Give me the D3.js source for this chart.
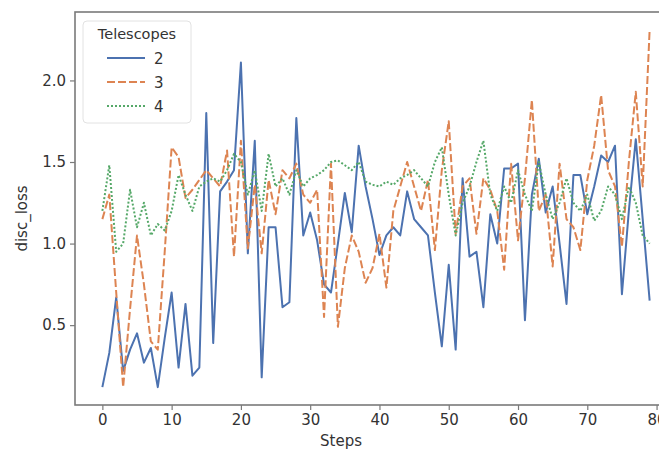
<!DOCTYPE html>
<html><head><meta charset="utf-8">
<script src="https://cdn.jsdelivr.net/npm/d3@7"></script>
<style>
html,body{margin:0;padding:0;background:#fff;}
text{font-family:"DejaVu Sans",sans-serif;}
</style></head>
<body><svg id="chart" width="659" height="453"></svg>
<script>
const seriesNames = ["2", "3", "4"];
const tel2 = [0.12,0.33,0.67,0.22,0.35,0.45,0.27,0.36,0.12,0.42,0.70,0.24,0.63,0.19,0.24,1.80,0.39,1.32,1.38,1.45,
2.11,0.94,1.63,0.18,1.10,1.10,0.61,0.64,1.77,1.05,1.19,1.02,0.75,0.70,1.00,1.31,1.07,1.60,1.35,1.15,
0.93,1.05,1.10,1.05,1.32,1.15,1.10,1.05,0.70,0.37,0.87,0.35,1.40,0.92,0.95,0.61,1.18,1.00,1.46,1.46,
1.49,0.53,1.30,1.52,1.19,1.35,1.00,0.63,1.42,1.42,1.18,1.35,1.54,1.50,1.60,0.69,1.20,1.64,1.15,0.65];
const tel3 = [1.15,1.30,0.70,0.12,0.60,1.05,0.75,0.40,0.35,0.95,1.59,1.53,1.28,1.33,1.39,1.45,1.40,1.35,1.57,0.92,
1.63,0.97,1.36,0.94,1.39,1.18,1.45,1.40,1.49,1.30,1.25,1.33,0.55,1.49,0.49,0.85,1.05,0.95,0.76,0.85,
1.06,0.73,1.20,1.35,1.50,1.35,1.20,1.39,0.96,1.45,1.75,1.06,1.35,1.40,1.06,1.40,1.33,1.20,0.84,1.49,
1.02,1.40,1.88,1.20,1.30,0.86,1.49,1.15,1.10,0.96,1.39,1.60,1.91,1.45,1.35,0.98,1.50,1.93,1.35,2.31];
const tel4 = [1.20,1.48,0.95,1.00,1.33,1.10,1.25,1.05,1.12,1.08,1.20,1.42,1.30,1.20,1.35,1.38,1.40,1.38,1.45,1.55,
1.50,1.30,1.45,1.20,1.55,1.35,1.40,1.30,1.45,1.35,1.40,1.42,1.45,1.50,1.51,1.48,1.45,1.50,1.38,1.36,
1.35,1.38,1.36,1.40,1.42,1.45,1.40,1.35,1.50,1.59,1.30,1.05,1.25,1.35,1.50,1.63,1.30,1.20,1.35,1.25,
1.45,1.30,1.20,1.50,1.30,1.15,1.25,1.40,1.25,1.20,1.30,1.14,1.20,1.35,1.30,1.15,1.35,1.25,1.05,1.00];
const xTicks = [0,10,20,30,40,50,60,70,80];
const yTicks = [0.5,1.0,1.5,2.0];
const colors = ["#4c72b0","#dd8452","#55a868"];

const allSeries = [tel2, tel3, tel4];
const svg = d3.select("#chart");
const L = 75, T = 12, B = 405, R = 677;

const nSteps = tel2.length - 1;
const xm = nSteps * 0.05;
const x = d3.scaleLinear().domain([-xm, nSteps + xm]).range([L, R]);
const allVals = allSeries.flat();
const ymin = d3.min(allVals), ymax = d3.max(allVals);
const ym = (ymax - ymin) * 0.05;
const y = d3.scaleLinear().domain([ymin - ym, ymax + ym]).range([B, T]);

const spine = "#7a7a7a";
const tc = "#333";

// lines
const lw = 2;
const dashes = [null, `${4*lw},${1.5*lw}`, `${lw},${lw}`];
const clip = svg.append("clipPath").attr("id","c").append("rect")
  .attr("x",L).attr("y",T).attr("width",R-L).attr("height",B-T);
const g = svg.append("g").attr("clip-path","url(#c)");
const line = d3.line().x((d,i)=>x(i)).y(d=>y(d));
allSeries.forEach((s,k)=>{
  g.append("path").datum(s).attr("d",line).attr("fill","none")
   .attr("stroke",colors[k]).attr("stroke-width",lw)
   .attr("stroke-dasharray",dashes[k]).attr("stroke-linejoin","round");
});

// axes
const xAxis = d3.axisBottom(x).tickValues(xTicks).tickSize(5).tickPadding(4).tickFormat(d3.format("d"));
const yAxis = d3.axisLeft(y).tickValues(yTicks).tickSize(5).tickPadding(4).tickFormat(d3.format(".1f"));
const gx = svg.append("g").attr("transform",`translate(0,${B})`).call(xAxis);
const gy = svg.append("g").attr("transform",`translate(${L},0)`).call(yAxis);
[gx,gy].forEach(ax=>{
  ax.select(".domain").remove();
  ax.selectAll(".tick line").attr("stroke",spine).attr("stroke-width",1.2);
  ax.selectAll(".tick text").attr("fill",tc).style("font-size","15px");
});
// spines
svg.append("rect").attr("x",L).attr("y",T).attr("width",R-L).attr("height",B-T)
  .attr("fill","none").attr("stroke",spine).attr("stroke-width",1.6);

// axis labels
svg.append("text").attr("x",(L+R)/2 - 35).attr("y",446).attr("text-anchor","middle")
  .attr("fill",tc).style("font-size","15px").text("Steps");
svg.append("text").attr("transform",`translate(27,${(T+B)/2 + 10}) rotate(-90)`)
  .attr("text-anchor","middle").attr("fill",tc).style("font-size","15px").text("disc_loss");

// legend
const lg = svg.append("g");
lg.append("rect").attr("x",83).attr("y",21).attr("width",108).attr("height",102).attr("rx",4)
  .attr("fill","#fff").attr("fill-opacity",0.85).attr("stroke","#e2e2e2").attr("stroke-width",1);
lg.append("text").attr("x",137).attr("y",39).attr("text-anchor","middle").attr("fill",tc)
  .style("font-size","14.5px").text("Telescopes");
const ly = [58, 82, 106];
seriesNames.forEach((n,k)=>{
  lg.append("line").attr("x1",107).attr("x2",145).attr("y1",ly[k]).attr("y2",ly[k])
    .attr("stroke",colors[k]).attr("stroke-width",lw).attr("stroke-dasharray",dashes[k]);
  lg.append("text").attr("x",154).attr("y",ly[k]+5.5).attr("fill",tc)
    .style("font-size","15px").text(n);
});
</script></body></html>
